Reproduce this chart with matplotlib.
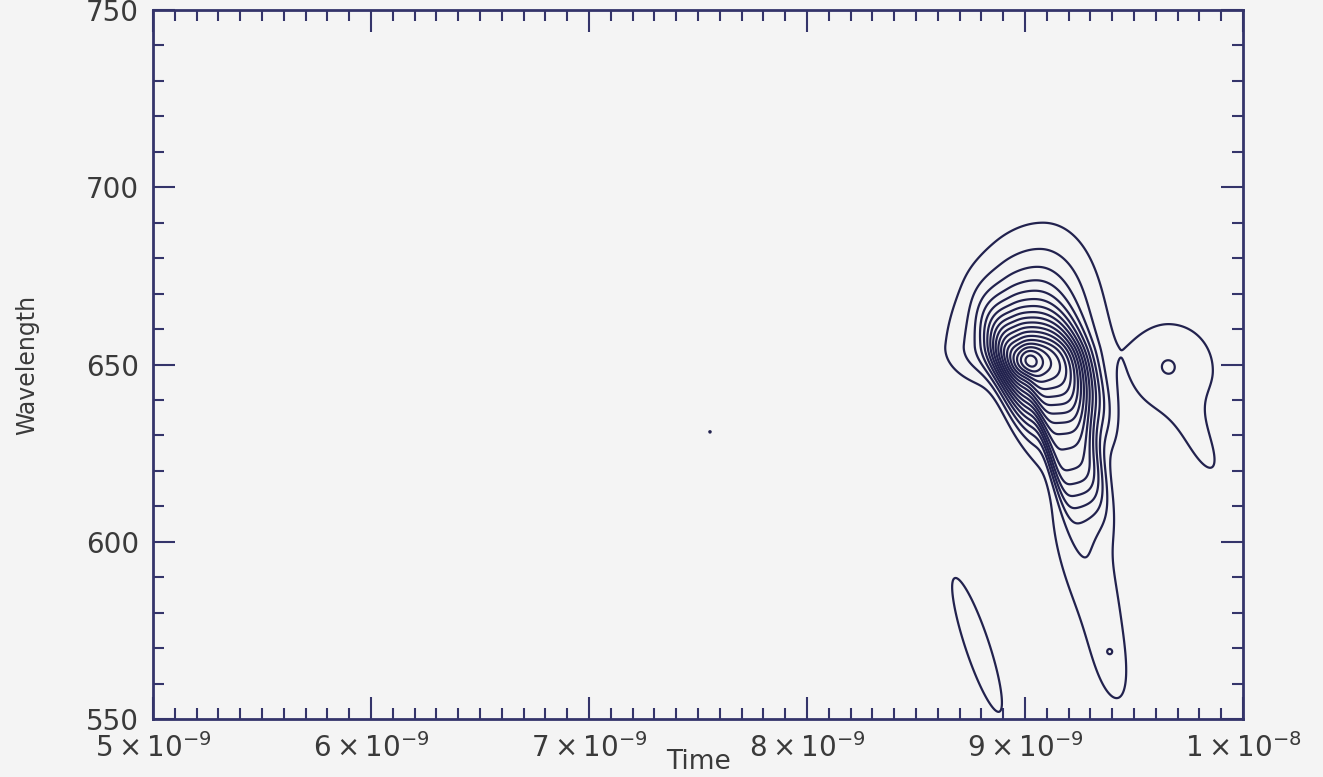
import numpy as np
import matplotlib.pyplot as plt
from matplotlib.ticker import MultipleLocator

# bumps of the contoured surface (time in ns, wavelength in nm)
# widths: left/right in ns, below/above in nm; shear = drift of the ridge in ns per nm
comp_t = [9.069, 9.197, 9.009, 9.023, 9.275, 9.390, 9.390, 9.665, 9.817, 9.656, 8.780, 7.555]
comp_w = [647.9, 623.1, 650.7, 655.5, 594.9, 564.4, 569.0, 648.4, 626.0, 649.6, 570.9, 631.0]
comp_st_left = [0.161, 0.073, 0.046, 0.206, 0.105, 0.064, 0.014, 0.183, 0.069, 0.037, 0.072, 0.009]
comp_st_right = [0.206, 0.124, 0.046, 0.174, 0.105, 0.064, 0.014, 0.206, 0.069, 0.037, 0.072, 0.009]
comp_sw_low = [11.3, 10.7, 2.8, 7.05, 20.3, 11.0, 0.85, 11.3, 9.9, 2.26, 23.6, 0.56]
comp_sw_high = [9.9, 16.9, 2.8, 18.3, 20.3, 11.0, 0.85, 13.5, 9.9, 2.26, 23.6, 0.56]
comp_shear = [-0.00488, -0.0039, 0.0, 0.00175, -0.00436, -0.00316, 0.0, 0.0, -0.0065, 0.0, -0.00522, 0.0]
comp_flat = [4, 4, 2, 2, 2, 2, 2, 2, 2, 2, 2, 2]
comp_amp = [0.55, 0.30, 0.12, 0.30, 0.09, 0.05, 0.025, 0.08, 0.055, 0.027, 0.07, 0.055]
peak_top = 0.925

contour_levels = np.arange(1, 19) * 0.05

xtick_vals = [5e-9, 6e-9, 7e-9, 8e-9, 9e-9, 1e-8]
xtick_labels = [r"$5\times10^{-9}$", r"$6\times10^{-9}$", r"$7\times10^{-9}$",
                r"$8\times10^{-9}$", r"$9\times10^{-9}$", r"$1\times10^{-8}$"]
ytick_vals = [550, 600, 650, 700, 750]

t = np.linspace(5.0, 10.0, 1500)
w = np.linspace(550.0, 750.0, 800)
T, W = np.meshgrid(t, w)
Z = np.zeros_like(T)
for i in range(len(comp_amp)):
    dw = W - comp_w[i]
    dt = T - comp_t[i] - comp_shear[i] * dw
    dx = np.abs(dt / np.where(dt < 0, comp_st_left[i], comp_st_right[i]))
    dy = dw / np.where(dw < 0, comp_sw_low[i], comp_sw_high[i])
    Z += comp_amp[i] * np.exp(-0.5 * dx ** comp_flat[i]) * np.exp(-0.5 * dy**2)
Z *= peak_top / Z.max()

bg = "#f4f4f4"
ink = "#22224e"
plt.rcParams["mathtext.fontset"] = "dejavusans"

fig = plt.figure(figsize=(13.23, 7.77), dpi=100, facecolor=bg)
ax = fig.add_axes([153 / 1323, 1 - 719 / 777, 1090 / 1323, 709 / 777])
ax.set_facecolor(bg)

ax.contour(T * 1e-9, W, Z, levels=contour_levels, colors=ink, linewidths=1.6)

ax.set_xlim(5e-9, 1e-8)
ax.set_ylim(550, 750)
ax.set_xticks(xtick_vals)
ax.set_xticklabels(xtick_labels)
ax.set_yticks(ytick_vals)
ax.xaxis.set_minor_locator(MultipleLocator(1e-10))
ax.yaxis.set_minor_locator(MultipleLocator(10))

for s in ax.spines.values():
    s.set_color("#34346a")
    s.set_linewidth(2)

ax.tick_params(which="both", direction="in", top=True, right=True,
               color="#34346a", width=1.5, labelcolor="#3a3a3a")
ax.tick_params(which="major", length=16, labelsize=20, pad=10)
ax.tick_params(axis="x", which="major", pad=10)
ax.tick_params(which="minor", length=8)

ax.set_xlabel("Time", fontsize=19, color="#3a3a3a", labelpad=-10)
ax.set_ylabel("Wavelength", fontsize=17, color="#3a3a3a", labelpad=34)

fig.savefig("out.png", dpi=100, facecolor=bg)
